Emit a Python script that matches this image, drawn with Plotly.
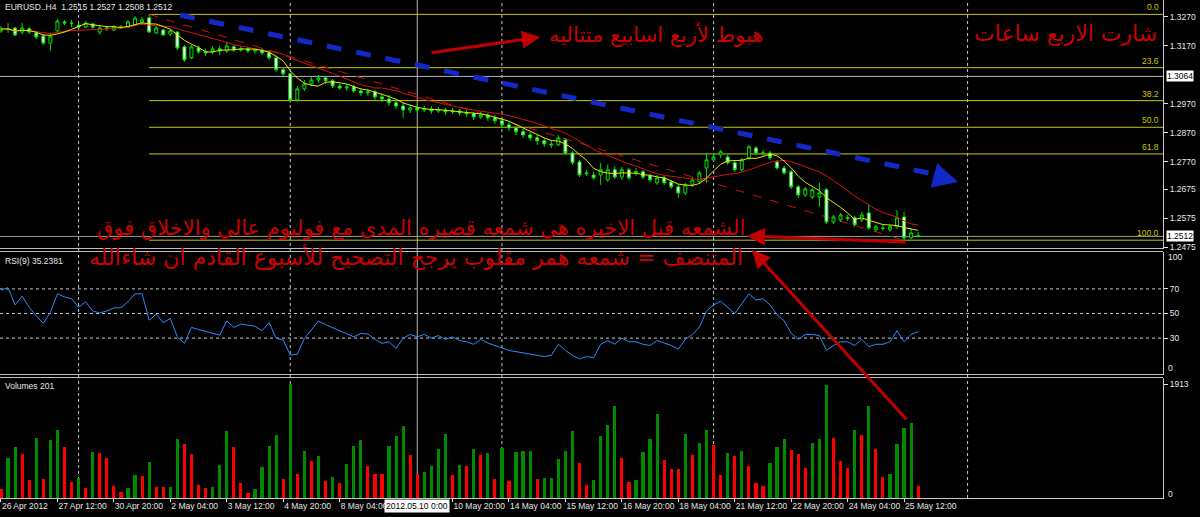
import plotly.graph_objects as go
import pandas as pd

# EURUSD H4, 26 Apr 04:00 .. 25 May 20:00 2012 (prices in points, /10000)
opens = [13221, 13228, 13231, 13217, 13228, 13214, 13203, 13179, 13221, 13252,
         13248, 13241, 13234, 13245, 13217, 13228, 13224, 13231, 13234, 13241,
         13249, 13266, 13214, 13224, 13210, 13217, 13166, 13128, 13162, 13149,
         13149, 13159, 13152, 13166, 13155, 13159, 13152, 13155, 13145, 13128,
         13087, 13073, 12983, 13021, 13038, 13052, 13059, 13049, 13031, 13024,
         13028, 13014, 13007, 13011, 12993, 12986, 12973, 12962, 12948, 12955,
         12948, 12952, 12945, 12948, 12942, 12945, 12938, 12935, 12924, 12931,
         12921, 12911, 12897, 12886, 12873, 12862, 12852, 12842, 12831, 12828,
         12845, 12800, 12769, 12728, 12724, 12724, 12707, 12742, 12717, 12742,
         12735, 12735, 12721, 12697, 12714, 12700, 12683, 12662, 12690, 12700,
         12748, 12776, 12793, 12786, 12766, 12742, 12783, 12817, 12800, 12800,
         12769, 12748, 12735, 12683, 12655, 12648, 12648, 12673, 12562, 12569,
         12576, 12576, 12569, 12593, 12535, 12541, 12535, 12545, 12579, 12507,
         12515]
highs = [13238, 13248, 13234, 13248, 13234, 13221, 13210, 13214, 13262, 13259,
         13259, 13248, 13255, 13248, 13241, 13238, 13241, 13241, 13259, 13272,
         13269, 13278, 13238, 13228, 13228, 13221, 13173, 13173, 13169, 13159,
         13169, 13169, 13183, 13173, 13169, 13166, 13162, 13162, 13155, 13135,
         13093, 13076, 13031, 13052, 13062, 13069, 13066, 13055, 13038, 13038,
         13035, 13024, 13021, 13018, 13004, 13000, 12983, 12973, 12966, 12966,
         12962, 12962, 12959, 12955, 12955, 12952, 12948, 12942, 12942, 12938,
         12931, 12921, 12907, 12893, 12883, 12873, 12862, 12852, 12845, 12862,
         12852, 12807, 12776, 12741, 12735, 12766, 12759, 12755, 12752, 12748,
         12748, 12742, 12728, 12724, 12721, 12707, 12693, 12697, 12717, 12738,
         12800, 12800, 12810, 12797, 12773, 12783, 12828, 12824, 12810, 12807,
         12776, 12755, 12742, 12690, 12683, 12679, 12697, 12679, 12586, 12593,
         12586, 12583, 12597, 12621, 12552, 12552, 12552, 12603, 12597, 12541,
         12527]
lows = [13214, 13214, 13203, 13210, 13210, 13193, 13172, 13152, 13217, 13241,
        13234, 13228, 13231, 13228, 13207, 13221, 13221, 13228, 13231, 13238,
        13241, 13214, 13210, 13203, 13203, 13155, 13114, 13124, 13142, 13135,
        13142, 13138, 13145, 13149, 13149, 13145, 13142, 13138, 13121, 13080,
        13062, 12973, 12976, 13014, 13031, 13042, 13038, 13024, 13018, 13014,
        13007, 12997, 12997, 12983, 12976, 12962, 12952, 12921, 12938, 12938,
        12942, 12935, 12938, 12931, 12935, 12928, 12924, 12914, 12917, 12911,
        12900, 12886, 12876, 12862, 12852, 12842, 12828, 12821, 12817, 12824,
        12793, 12759, 12717, 12721, 12707, 12690, 12700, 12710, 12707, 12707,
        12721, 12710, 12700, 12690, 12690, 12676, 12645, 12655, 12683, 12693,
        12697, 12769, 12783, 12759, 12735, 12735, 12776, 12793, 12790, 12776,
        12742, 12724, 12676, 12645, 12648, 12641, 12614, 12555, 12555, 12562,
        12565, 12545, 12562, 12535, 12528, 12531, 12528, 12538, 12499, 12503,
        12508]
closes = [13228, 13227, 13207, 13231, 13217, 13200, 13179, 13203, 13255, 13248,
          13247, 13234, 13248, 13234, 13231, 13231, 13234, 13234, 13252, 13265,
          13259, 13217, 13231, 13207, 13221, 13162, 13121, 13166, 13149, 13145,
          13159, 13152, 13169, 13155, 13159, 13152, 13155, 13145, 13128, 13087,
          13073, 12983, 13021, 13038, 13052, 13059, 13049, 13031, 13024, 13028,
          13014, 13007, 13011, 12993, 12986, 12973, 12962, 12948, 12955, 12948,
          12952, 12945, 12948, 12942, 12945, 12938, 12935, 12924, 12931, 12921,
          12911, 12897, 12886, 12873, 12862, 12852, 12842, 12831, 12828, 12852,
          12800, 12766, 12724, 12731, 12714, 12742, 12742, 12717, 12742, 12714,
          12734, 12717, 12707, 12714, 12697, 12683, 12662, 12690, 12707, 12731,
          12776, 12786, 12804, 12766, 12742, 12776, 12821, 12800, 12799, 12783,
          12748, 12731, 12683, 12655, 12676, 12673, 12662, 12562, 12579, 12586,
          12575, 12552, 12586, 12541, 12545, 12540, 12545, 12576, 12507, 12524,
          12512]
volumes = [151, 669, 864, 742, 307, 1015, 323, 976, 1143, 853,
           262, 335, 167, 764, 753, 664, 195, 100, 162, 390,
           363, 602, 185, 178, 190, 987, 898, 736, 218, 162,
           190, 558, 1121, 853, 251, 84, 145, 513, 881, 1060,
           323, 1913, 407, 781, 619, 708, 279, 351, 245, 574,
           881, 970, 541, 407, 396, 881, 1043, 1205, 719, 407,
           441, 541, 825, 1076, 379, 558, 541, 825, 725, 753,
           323, 842, 279, 770, 781, 785, 323, 340, 342, 647,
           781, 1121, 586, 212, 307, 1048, 1227, 1550, 669, 262,
           307, 764, 987, 1417, 636, 491, 488, 1076, 725, 926,
           1138, 887, 379, 753, 708, 797, 541, 251, 206, 586,
           864, 998, 809, 736, 502, 926, 987, 1902, 1015, 619,
           502, 1143, 1060, 1545, 825, 351, 396, 909, 1177, 1255,
           201]
rsi = [69, 71, 57, 64, 55, 48, 42, 51, 66, 63.5,
       62, 55, 59.5, 52, 50.5, 52, 54.6, 54.6, 59.5, 66,
       66, 44.6, 49.5, 42.4, 46, 31, 25.7, 38.7, 37, 35.5,
       34, 32.4, 44, 38.7, 41.4, 40.5, 39.7, 36, 42.7, 29.7,
       28.4, 16.2, 16.8, 29.7, 37, 43.8, 41, 38.5, 36.5, 34,
       31, 33.8, 33.3, 29, 25.7, 27, 21.6, 30, 33, 31,
       33, 30, 32, 29, 31, 28, 27, 25, 29, 26,
       24, 22, 20, 19, 18, 17, 16, 15, 16, 25,
       20, 16, 13, 15, 14, 25, 28, 25, 30, 27,
       27, 25, 24, 28, 26, 24, 21, 29, 33, 39,
       52, 57, 60, 55, 50, 58, 66, 61, 62, 57,
       49, 44, 34, 29, 33, 33, 32, 20, 24, 27,
       27, 24, 29, 23, 25, 25, 27, 36, 27, 33,
       35.2381]

# time labels every 8 bars (the one under the crosshair box is hidden)
tick_idx = [0, 8, 16, 24, 32, 40, 48, 64, 72, 80, 88, 96, 104, 112, 120, 128]
tick_text = ['26 Apr 2012', '27 Apr 12:00', '30 Apr 20:00', '2 May 04:00', '3 May 12:00',
             '4 May 20:00', '8 May 04:00', '10 May 20:00', '14 May 04:00',
             '15 May 12:00', '16 May 20:00', '18 May 04:00', '21 May 12:00', '22 May 20:00',
             '24 May 04:00', '25 May 12:00']
price_ticks = [1.3270, 1.3170, 1.2970, 1.2870, 1.2770, 1.2675, 1.2575, 1.2475]
fib_levels = [0.0, 23.6, 38.2, 50.0, 61.8, 100.0]
grid_idx = [11, 41, 71, 101, 137]
rsi_levels = [70, 50, 30]

# plot area in pixels (right axis strip 37px, time strip 19px)
PW, PH = 1163, 498
def px(x):
    return x / PW
def py(y):
    return 1 - y / PH

df = pd.DataFrame({'o': opens, 'h': highs, 'l': lows, 'c': closes, 'v': volumes, 'rsi': rsi})
df[['o', 'h', 'l', 'c']] = df[['o', 'h', 'l', 'c']] / 10000.0
df['i'] = range(len(df))
df['ma_fast'] = df['c'].rolling(5, min_periods=1).mean()
df['ma_slow'] = df['c'].rolling(13, min_periods=1).mean()
vol_col = ['#ff0000']
for k in range(1, len(df)):
    vol_col.append('#008a00' if df['v'][k] > df['v'][k - 1] else '#ff0000')

fib_hi_i, fib_lo_i = 21, 128
fib_hi, fib_lo = df['h'][fib_hi_i], df['l'][fib_lo_i]
bid = df['c'].iloc[-1]
cross_price, cross_i = 1.3064, 59

GREEN = '#00e000'
TXT = '#e6e6e6'
RED_TXT = '#cc0000'
font_mt = dict(family='Liberation Sans', size=8.5, color=TXT)
xr = [-0.14, 164.7]

traces = [
    go.Candlestick(x=df['i'], open=df['o'], high=df['h'], low=df['l'], close=df['c'],
                   increasing=dict(line=dict(color=GREEN, width=1), fillcolor='#000000'),
                   decreasing=dict(line=dict(color=GREEN, width=1), fillcolor='#ffffff'),
                   whiskerwidth=0, hoverinfo='skip', xaxis='x', yaxis='y'),
    go.Scatter(x=df['i'], y=df['ma_slow'], mode='lines', line=dict(color='#d81010', width=1),
               xaxis='x', yaxis='y'),
    go.Scatter(x=df['i'], y=df['ma_fast'], mode='lines', line=dict(color='#e8e800', width=1),
               xaxis='x', yaxis='y'),
    go.Scatter(x=df['i'], y=df['rsi'], mode='lines', line=dict(color='#2a8cff', width=1),
               xaxis='x2', yaxis='y2'),
    go.Bar(x=df['i'], y=df['v'], width=0.45, marker=dict(color=vol_col, line=dict(width=0)),
           xaxis='x3', yaxis='y3'),
]

shapes = []
# vertical dotted grid and crosshair
for g in grid_idx:
    shapes.append(dict(type='line', xref='x', yref='paper', x0=g, x1=g, y0=0, y1=1, layer='below',
                       line=dict(color='#c8c8c8', width=1, dash='dot')))
shapes.append(dict(type='line', xref='x', yref='paper', x0=cross_i, x1=cross_i, y0=0, y1=1,
                   layer='below', line=dict(color='#b4b4b4', width=1)))
# rsi levels
for lv in rsi_levels:
    shapes.append(dict(type='line', xref='paper', yref='y2', x0=0, x1=1, y0=lv, y1=lv, layer='below',
                       line=dict(color='#c8c8c8', width=1, dash='dot')))
# fibo
for lv in fib_levels:
    p = fib_hi - (fib_hi - fib_lo) * lv / 100
    shapes.append(dict(type='line', xref='x', yref='y', x0=fib_hi_i, x1=xr[1], y0=p, y1=p,
                       layer='below', line=dict(color='#c8c800', width=1)))
shapes.append(dict(type='line', xref='x', yref='y', x0=fib_hi_i, x1=fib_lo_i, y0=fib_hi, y1=fib_lo,
                   layer='below', line=dict(color='#d01010', width=1, dash='dash')))
# crosshair price and bid line
shapes.append(dict(type='line', xref='paper', yref='y', x0=0, x1=1, y0=cross_price, y1=cross_price,
                   layer='below', line=dict(color='#b4b4b4', width=1)))
shapes.append(dict(type='line', xref='paper', yref='y', x0=0, x1=1, y0=bid, y1=bid,
                   layer='below', line=dict(color='#9a9a9a', width=1)))
# pane separators (double thin lines)
for yy in [248.5, 251.5, 374.5, 377.5]:
    shapes.append(dict(type='line', xref='paper', yref='paper', x0=0, x1=1, y0=py(yy), y1=py(yy),
                       line=dict(color='#bebebe', width=1)))
# blue dashed trend
shapes.append(dict(type='line', xref='paper', yref='paper', x0=px(180), y0=py(15), x1=px(938), y1=py(175),
                   line=dict(color='#1428c8', width=5, dash='dash')))

ann = []
ann.append(dict(xref='paper', yref='paper', x=px(3), y=py(7), xanchor='left', yanchor='middle',
                text='EURUSD..H4  1.2515 1.2527 1.2508 1.2512', showarrow=False, font=font_mt))
ann.append(dict(xref='paper', yref='paper', x=px(3), y=py(261), xanchor='left', yanchor='middle',
                text='RSI(9) 35.2381', showarrow=False, font=font_mt))
ann.append(dict(xref='paper', yref='paper', x=px(3), y=py(386), xanchor='left', yanchor='middle',
                text='Volumes 201', showarrow=False, font=font_mt))
for lv in fib_levels:
    p = fib_hi - (fib_hi - fib_lo) * lv / 100
    ann.append(dict(xref='paper', yref='y', x=px(1161), y=p, xanchor='right', yanchor='bottom',
                    text='%.1f' % lv, showarrow=False, font=dict(family='Liberation Sans', size=8.5, color='#c8c800')))
for p in [cross_price, bid]:
    ann.append(dict(xref='paper', yref='y', x=px(1166), y=p, xanchor='left', yanchor='middle',
                    text='%.4f' % p, showarrow=False, bgcolor='#ffffff', borderpad=0,
                    font=dict(family='Liberation Sans', size=8.5, color='#000000')))
ann.append(dict(xref='paper', yref='paper', x=px(1166), y=py(257), xanchor='left', yanchor='middle',
                text='100', showarrow=False, font=font_mt))
ann.append(dict(xref='paper', yref='paper', x=px(1166), y=py(368), xanchor='left', yanchor='middle',
                text='0', showarrow=False, font=font_mt))
ann.append(dict(xref='paper', yref='paper', x=px(1166), y=py(494), xanchor='left', yanchor='middle',
                text='0', showarrow=False, font=font_mt))
ann.append(dict(xref='x3', yref='paper', x=cross_i, y=py(506), xanchor='center', yanchor='middle',
                text='2012.05.10 0:00', showarrow=False, bgcolor='#ffffff', borderpad=1,
                font=dict(family='Liberation Sans', size=8.5, color='#000000')))
# blue arrow head
ann.append(dict(xref='paper', yref='paper', x=px(958), y=py(182), ax=-22, ay=-6, text='',
                showarrow=True, arrowhead=2, arrowsize=1.0, arrowwidth=5, arrowcolor='#1428c8'))
# red notes
red_font = dict(family='DejaVu Sans', size=21, color=RED_TXT)
ann.append(dict(xref='paper', yref='paper', x=px(656), y=py(35), xanchor='center', yanchor='middle',
                text='هبوط لأربع اسابيع متتاليه', showarrow=False, font=red_font))
ann.append(dict(xref='paper', yref='paper', x=px(1065), y=py(33), xanchor='center', yanchor='middle',
                text='شارت الاربع ساعات', showarrow=False, font=dict(family='DejaVu Sans', size=22, color=RED_TXT)))
ann.append(dict(xref='paper', yref='paper', x=px(747), y=py(228), xanchor='right', yanchor='middle',
                text='الشمعه قبل الاخيره هي شمعه قصيره المدى مع فوليوم عالي والاخلاق فوق',
                showarrow=False, font=red_font))
ann.append(dict(xref='paper', yref='paper', x=px(745), y=py(257), xanchor='right', yanchor='middle',
                text='المتنصف = شمعه همر مقلوب يرجح التصحيح للأسبوع القادم ان شاءالله',
                showarrow=False, font=dict(family='DejaVu Sans', size=22, color=RED_TXT)))
for tip, tail in [((540, 37), (430, 53)), ((747, 236), (907, 242)), ((752, 250), (908, 421))]:
    ann.append(dict(xref='paper', yref='paper', x=px(tip[0]), y=py(tip[1]),
                    ax=tail[0] - tip[0], ay=tail[1] - tip[1], text='', showarrow=True,
                    arrowhead=2, arrowsize=1.2, arrowwidth=3, arrowcolor='#c00000'))

axis_common = dict(showgrid=False, zeroline=False, color=TXT)
layout = go.Layout(
    width=1200, height=517,
    margin=dict(l=0, r=37, t=0, b=19),
    paper_bgcolor='#000000', plot_bgcolor='#000000',
    showlegend=False, boxgap=0.4, bargap=0,
    xaxis=dict(domain=[0, 1], range=xr, anchor='y', showticklabels=False,
               rangeslider=dict(visible=False), **axis_common),
    xaxis2=dict(domain=[0, 1], range=xr, anchor='y2', showticklabels=False, **axis_common),
    xaxis3=dict(domain=[0, 1], range=xr, anchor='y3', tickvals=tick_idx, ticktext=tick_text,
                tickangle=0, ticklabelposition='outside right', ticks='outside', ticklen=3,
                tickcolor=TXT, tickfont=font_mt, showline=True, linecolor='#c8c8c8', **axis_common),
    yaxis=dict(domain=[py(249), 1], range=[1.24686, 1.33276], side='right',
               tickvals=price_ticks, ticktext=['%.4f' % t for t in price_ticks],
               ticks='outside', ticklen=4, tickcolor=TXT, tickfont=font_mt,
               showline=True, linecolor='#c8c8c8', **axis_common),
    yaxis2=dict(domain=[py(375), py(252)], range=[0, 100], side='right',
                tickvals=rsi_levels, ticks='outside', ticklen=4, tickcolor=TXT, tickfont=font_mt,
                showline=True, linecolor='#c8c8c8', **axis_common),
    yaxis3=dict(domain=[0, py(378)], range=[0, 2014], side='right',
                tickvals=[1913], ticks='outside', ticklen=4, tickcolor=TXT, tickfont=font_mt,
                showline=True, linecolor='#c8c8c8', **axis_common),
    shapes=shapes, annotations=ann,
)

fig = go.Figure(data=traces, layout=layout)
fig.write_html("out.html", config={'displayModeBar': False},
               post_script="document.body.style.margin='0';document.body.style.background='#000';")
